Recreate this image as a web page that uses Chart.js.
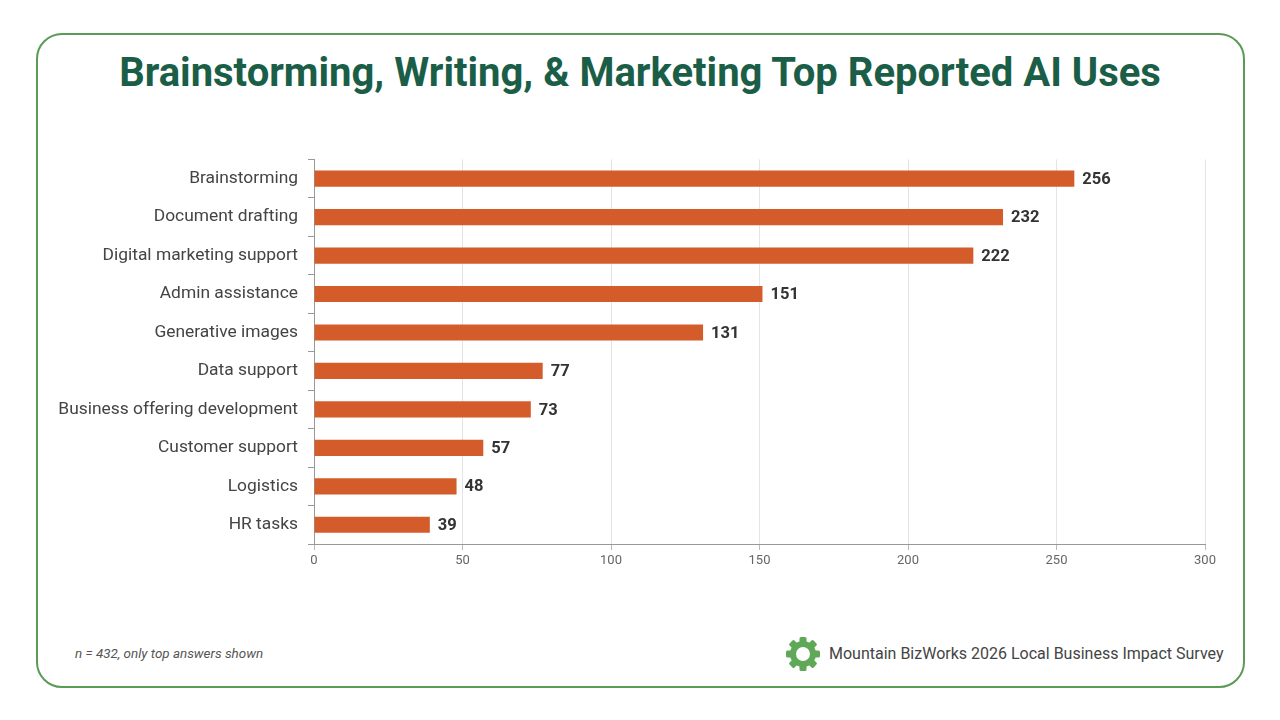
<!DOCTYPE html>
<html lang="en">
<head>
<meta charset="UTF-8">
<script src="https://cdn.jsdelivr.net/npm/chart.js"></script>
<title>Top Reported AI Uses</title>
<style>
  * { margin: 0; padding: 0; }
  body { width: 1280px; height: 720px; background: #fff; font-family: Roboto, sans-serif; position: relative; overflow: hidden; }
  .marco { position: absolute; left: 36px; top: 33px; width: 1205px; height: 651px; border: 2px solid #5b9b57; border-radius: 26px; }
  h1 { position: absolute; left: 0; top: 49px; width: 1280px; text-align: center; font-size: 40px; font-weight: 700; color: #1b5e47; }
  .contenedor { position: absolute; left: 40px; top: 139px; width: 1180px; height: 438px; }
  .nota { position: absolute; left: 75px; top: 646px; font-size: 13.4px; font-style: italic; color: #555; }
  .fuente { position: absolute; left: 829px; top: 644px; font-size: 16px; color: #444; }
  .logo { position: absolute; left: 785px; top: 636px; }
</style>
</head>
<body>
<div class="marco"></div>
<h1>Brainstorming, Writing, &amp; Marketing Top Reported AI Uses</h1>
<div class="contenedor"><canvas id="myChart"></canvas></div>
<div class="nota">n = 432, only top answers shown</div>
<svg class="logo" width="36" height="36" viewBox="0 0 36 36">
  <g fill="#5fa857" transform="translate(18 18)">
    <rect x="-3.5" y="-17" width="7" height="8" rx="1.5"/>
    <rect x="-3.5" y="-17" width="7" height="8" rx="1.5" transform="rotate(45)"/>
    <rect x="-3.5" y="-17" width="7" height="8" rx="1.5" transform="rotate(90)"/>
    <rect x="-3.5" y="-17" width="7" height="8" rx="1.5" transform="rotate(135)"/>
    <rect x="-3.5" y="-17" width="7" height="8" rx="1.5" transform="rotate(180)"/>
    <rect x="-3.5" y="-17" width="7" height="8" rx="1.5" transform="rotate(225)"/>
    <rect x="-3.5" y="-17" width="7" height="8" rx="1.5" transform="rotate(270)"/>
    <rect x="-3.5" y="-17" width="7" height="8" rx="1.5" transform="rotate(315)"/>
  </g>
  <circle cx="18" cy="18" r="10" fill="none" stroke="#5fa857" stroke-width="6"/>
</svg>
<div class="fuente">Mountain BizWorks 2026 Local Business Impact Survey</div>

<script>
  const etiquetas = ['Brainstorming', 'Document drafting', 'Digital marketing support', 'Admin assistance',
    'Generative images', 'Data support', 'Business offering development', 'Customer support', 'Logistics', 'HR tasks'];
  const respuestas = [256, 232, 222, 151, 131, 77, 73, 57, 48, 39];
  const marcasX = [0, 50, 100, 150, 200, 250, 300];

  // escribe el valor al final de cada barra
  const valoresBarras = {
    id: 'valoresBarras',
    afterDatasetsDraw(chart) {
      const ctx = chart.ctx;
      ctx.save();
      ctx.font = 'bold 16.5px Roboto';
      ctx.fillStyle = '#333';
      ctx.textBaseline = 'middle';
      chart.getDatasetMeta(0).data.forEach((barra, i) => {
        ctx.fillText(respuestas[i], barra.x + 8, barra.y + 1);
      });
      ctx.restore();
    }
  };

  const ctx = document.getElementById('myChart').getContext('2d');
  new Chart(ctx, {
    type: 'bar',
    data: {
      labels: etiquetas,
      datasets: [{
        data: respuestas,
        backgroundColor: '#d45c2b',
        barPercentage: 0.6,
        categoryPercentage: 0.7
      }]
    },
    options: {
      indexAxis: 'y',
      responsive: true,
      maintainAspectRatio: false,
      animation: false,
      layout: { padding: { top: 16, right: 15 } },
      plugins: { legend: { display: false }, tooltip: { enabled: false } },
      scales: {
        x: {
          min: 0,
          max: 300,
          afterBuildTicks(axis) { axis.ticks = marcasX.map(v => ({ value: v })); },
          afterFit(axis) { axis.height = 33; },
          grid: { color: '#e4e4e4', tickColor: '#bbb', tickLength: 6 },
          border: { color: '#999' },
          ticks: { color: '#666', font: { family: 'Roboto', size: 13 }, padding: 3 }
        },
        y: {
          afterFit(axis) { axis.width = 274; },
          grid: { drawOnChartArea: false, tickColor: '#999', tickLength: 6 },
          border: { color: '#999' },
          ticks: { color: '#444', font: { family: 'Roboto', size: 17.4 }, padding: 10 }
        }
      }
    },
    plugins: [valoresBarras]
  });
</script>
</body>
</html>
